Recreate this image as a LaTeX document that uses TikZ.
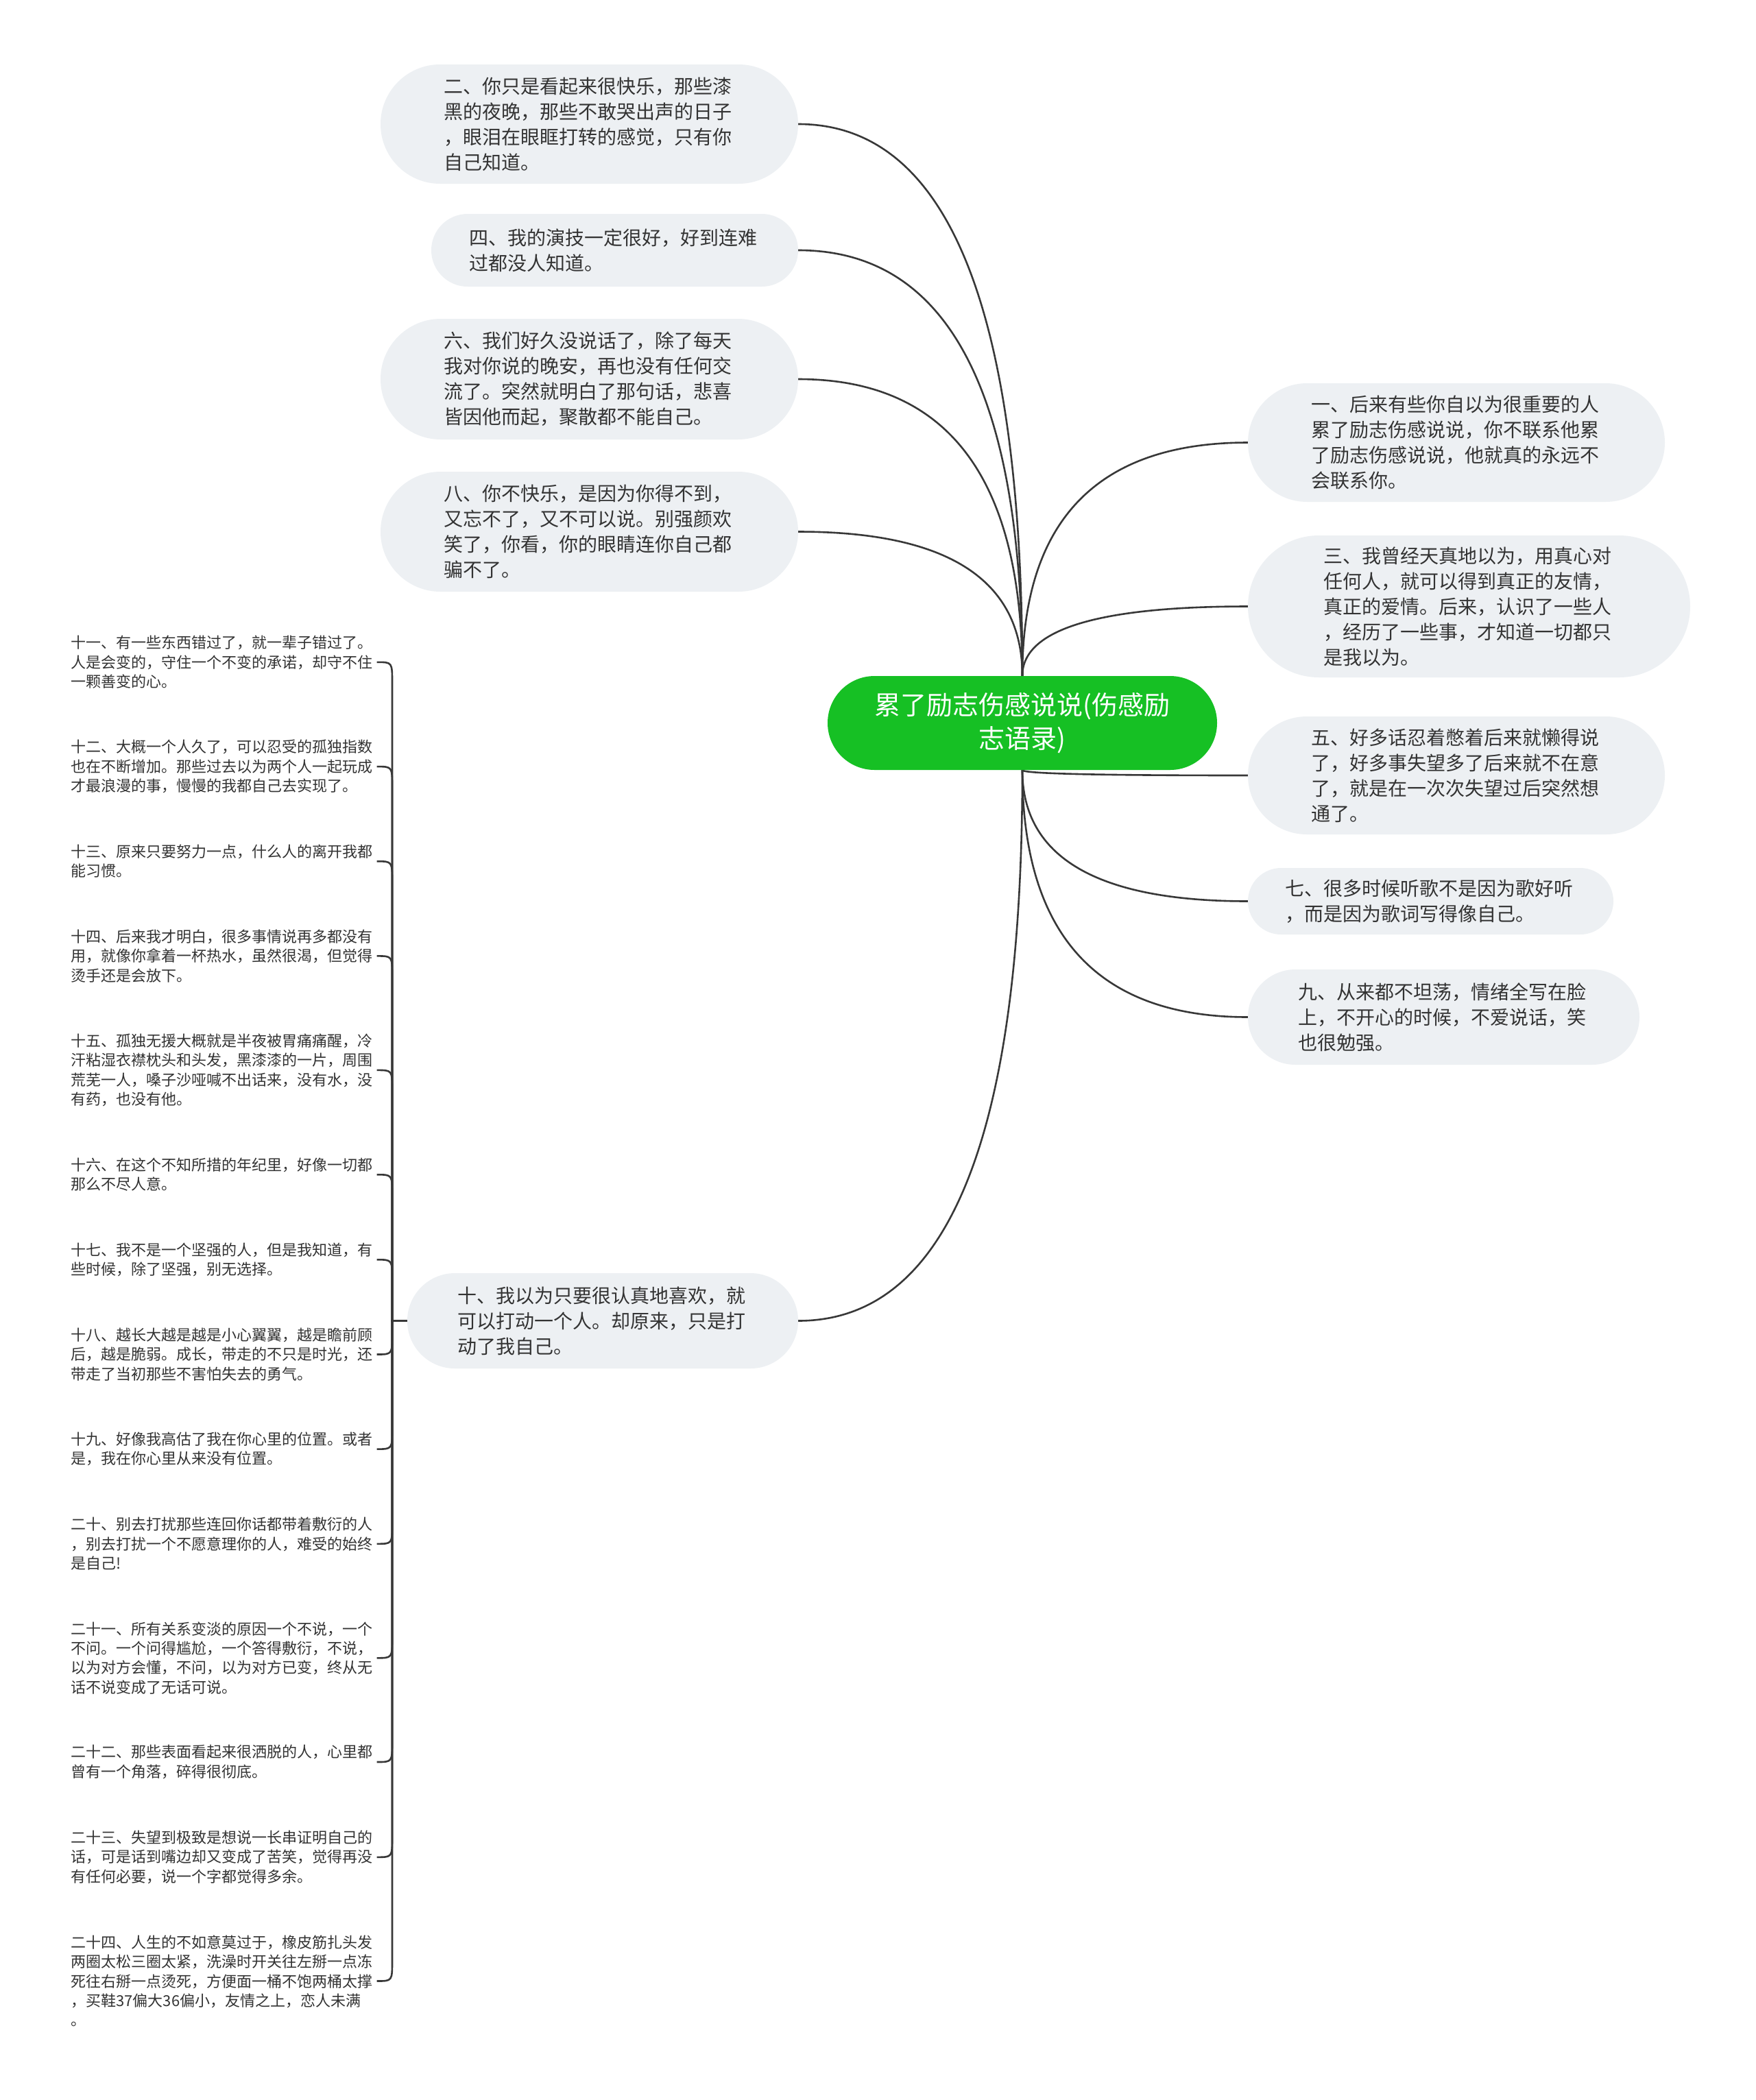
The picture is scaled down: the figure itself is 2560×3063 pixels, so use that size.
\documentclass[tikz,border=0pt]{standalone}
\usepackage{fontspec}
\setmainfont{Noto Sans CJK SC}
\usepackage{xcolor}
\usepackage{tikz}
\usetikzlibrary{calc,backgrounds}
\definecolor{ink}{HTML}{333333}
\definecolor{wirecol}{HTML}{383838}
\definecolor{leafbg}{HTML}{EDF0F3}
\definecolor{rootgreen}{HTML}{16C024}
\tikzset{
  root/.style={
    rectangle, fill=rootgreen, text=white, align=center, inner sep=0pt,
    font=\fontsize{38}{49}\selectfont,
    minimum width=568pt, minimum height=137pt, rounded corners=68.5pt
  },
  leaf/.style 2 args={
    rectangle, fill=leafbg, text=ink, align=left, inner sep=0pt,
    text width=424pt, font=\fontsize{28}{37}\selectfont,
    minimum width=#1, minimum height=#2, rounded corners=#2/2
  },
  saying/.style={
    text=ink, align=left, text width=444pt, inner xsep=2pt, inner ysep=0pt,
    font=\fontsize{22}{28.3}\selectfont
  },
  wire/.style={draw=wirecol, line width=2.6pt}
}

\begin{document}
\begin{tikzpicture}[x=1pt,y=-1pt]
  \useasboundingbox (0,0) rectangle (2560,3063);

  % ---- Root ----
  \node[root] (root) at (1491,1054.5) {累了励志伤感说说(伤感励\\志语录)};

  % ---- Left branches ----
  \node[leaf={609pt}{174pt}] (two) at (859.5,181)
    {二、你只是看起来很快乐，那些漆\\黑的夜晚，那些不敢哭出声的日子\\，眼泪在眼眶打转的感觉，只有你\\自己知道。};
  \node[leaf={535pt}{106pt}] (four) at (896.5,365)
    {四、我的演技一定很好，好到连难\\过都没人知道。};
  \node[leaf={609pt}{176pt}] (six) at (859.5,553)
    {六、我们好久没说话了，除了每天\\我对你说的晚安，再也没有任何交\\流了。突然就明白了那句话，悲喜\\皆因他而起，聚散都不能自己。};
  \node[leaf={609pt}{175pt}] (eight) at (859.5,775.5)
    {八、你不快乐，是因为你得不到，\\又忘不了，又不可以说。别强颜欢\\笑了，你看，你的眼睛连你自己都\\骗不了。};
  \node[leaf={570pt}{139pt}] (ten) at (879,1926.5)
    {十、我以为只要很认真地喜欢，就\\可以打动一个人。却原来，只是打\\动了我自己。};

  % ---- Right branches ----
  \node[leaf={608pt}{173pt}] (one) at (2124,645.5)
    {一、后来有些你自以为很重要的人\\累了励志伤感说说，你不联系他累\\了励志伤感说说，他就真的永远不\\会联系你。};
  \node[leaf={645pt}{207pt}] (three) at (2142.5,884.5)
    {三、我曾经天真地以为，用真心对\\任何人，就可以得到真正的友情，\\真正的爱情。后来，认识了一些人\\，经历了一些事，才知道一切都只\\是我以为。};
  \node[leaf={608pt}{172pt}] (five) at (2124,1131)
    {五、好多话忍着憋着后来就懒得说\\了，好多事失望多了后来就不在意\\了，就是在一次次失望过后突然想\\通了。};
  \node[leaf={533pt}{97pt}] (seven) at (2086.5,1314.5)
    {七、很多时候听歌不是因为歌好听\\，而是因为歌词写得像自己。};
  \node[leaf={571pt}{139pt}] (nine) at (2105.5,1483.5)
    {九、从来都不坦荡，情绪全写在脸\\上，不开心的时候，不爱说话，笑\\也很勉强。};

  % ---- Sayings under ten ----
  \node[saying] (s11) at (325.5,965.8) {十一、有一些东西错过了，就一辈子错过了。\\人是会变的，守住一个不变的承诺，却守不住\\一颗善变的心。};
  \node[saying] (s12) at (325.5,1118.1) {十二、大概一个人久了，可以忍受的孤独指数\\也在不断增加。那些过去以为两个人一起玩成\\才最浪漫的事，慢慢的我都自己去实现了。};
  \node[saying] (s13) at (325.5,1256.3) {十三、原来只要努力一点，什么人的离开我都\\能习惯。};
  \node[saying] (s14) at (325.5,1394.4) {十四、后来我才明白，很多事情说再多都没有\\用，就像你拿着一杯热水，虽然很渴，但觉得\\烫手还是会放下。};
  \node[saying] (s15) at (325.5,1560.9) {十五、孤独无援大概就是半夜被胃痛痛醒，冷\\汗粘湿衣襟枕头和头发，黑漆漆的一片，周围\\荒芜一人，嗓子沙哑喊不出话来，没有水，没\\有药，也没有他。};
  \node[saying] (s16) at (325.5,1713.3) {十六、在这个不知所措的年纪里，好像一切都\\那么不尽人意。};
  \node[saying] (s17) at (325.5,1837.3) {十七、我不是一个坚强的人，但是我知道，有\\些时候，除了坚强，别无选择。};
  \node[saying] (s18) at (325.5,1975.5) {十八、越长大越是越是小心翼翼，越是瞻前顾\\后，越是脆弱。成长，带走的不只是时光，还\\带走了当初那些不害怕失去的勇气。};
  \node[saying] (s19) at (325.5,2113.6) {十九、好像我高估了我在你心里的位置。或者\\是，我在你心里从来没有位置。};
  \node[saying] (s20) at (325.5,2251.8) {二十、别去打扰那些连回你话都带着敷衍的人\\，别去打扰一个不愿意理你的人，难受的始终\\是自己!};
  \node[saying] (s21) at (325.5,2418.3) {二十一、所有关系变淡的原因一个不说，一个\\不问。一个问得尴尬，一个答得敷衍，不说，\\以为对方会懂，不问，以为对方已变，终从无\\话不说变成了无话可说。};
  \node[saying] (s22) at (325.5,2570) {二十二、那些表面看起来很洒脱的人，心里都\\曾有一个角落，碎得很彻底。};
  \node[saying] (s23) at (325.5,2708.8) {二十三、失望到极致是想说一长串证明自己的\\话，可是话到嘴边却又变成了苦笑，觉得再没\\有任何必要，说一个字都觉得多余。};
  \node[saying] (s24) at (325.5,2889.5) {二十四、人生的不如意莫过于，橡皮筋扎头发\\两圈太松三圈太紧，洗澡时开关往左掰一点冻\\死往右掰一点烫死，方便面一桶不饱两桶太撑\\，买鞋37偏大36偏小，友情之上，恋人未满\\。};

  \coordinate (hub) at (572,1926.5);

  % ---- Edges ----
  \begin{scope}[on background layer]
    \fill[white] (0,0) rectangle (2560,3063);
    \foreach \src/\k/\side in {north/two/east,north/four/east,north/six/east,
        north/eight/east,north/one/west,north/three/west,south/five/west,
        south/seven/west,south/nine/west,south/ten/east}{
      \path (root.\src |- \k.\side) coordinate (knee);
      \draw[wire] (root.\src)
        .. controls ($(root.\src)!0.667!(knee)$) and ($(\k.\side)!0.667!(knee)$)
        .. (\k.\side);
    }

    \foreach \s in {s11,s12,s13,s14,s15,s16,s17,s18,s19,s20,s21,s22,s23,s24}{
      \path (hub |- \s.east) coordinate (bend);
      \draw[wire] (ten.west) -- (hub) -- ($(bend)!30pt!(hub)$)
        .. controls (bend) .. (\s.east);
    }
  \end{scope}
\end{tikzpicture}
\end{document}
